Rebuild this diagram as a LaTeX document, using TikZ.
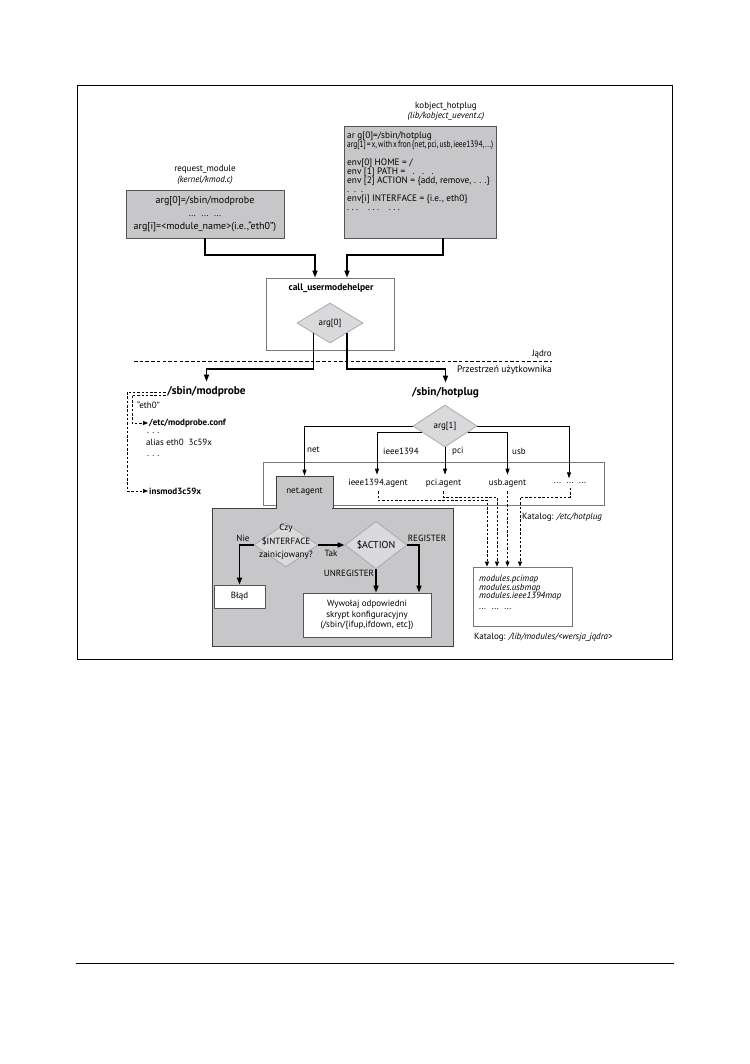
\documentclass[tikz,border=0pt]{standalone}
\usepackage{fontspec}
\setmainfont{PT Sans}
\usetikzlibrary{arrows.meta,shapes.geometric,calc}
\newcommand{\fw}[2]{\resizebox{#1pt}{\height}{#2}}
\definecolor{boxgray}{RGB}{199,199,201}
\definecolor{boxborder}{RGB}{85,85,85}
\definecolor{diafill}{RGB}{218,218,220}
\definecolor{diaborder}{RGB}{170,170,172}
\definecolor{lineborder}{RGB}{120,120,120}
\begin{document}
\begin{tikzpicture}[x=1pt,y=-1pt,
  font=\fontsize{9}{9}\selectfont,
  graybox/.style={draw=boxborder, fill=boxgray, line width=0.8, inner sep=0},
  whitebox/.style={draw=boxborder, fill=white, line width=0.8, inner sep=0},
  framebox/.style={draw=lineborder, fill=white, line width=0.8, inner sep=0},
  dia/.style={diamond, draw=diaborder, fill=diafill, inner sep=0, line width=0.8},
  lbl/.style={inner sep=0},
  agent/.style={inner xsep=1, inner ysep=4},
  bigbold/.style={font=\bfseries\fontsize{11.3}{13}\selectfont, inner xsep=1.5, inner ysep=5},
  smallbold/.style={font=\bfseries\fontsize{9}{9}\selectfont, inner sep=1},
  mainarr/.style={line width=1.6, -{Triangle[length=7pt,width=5pt]}},
  thinarr/.style={line width=0.8, -{Triangle[length=6pt,width=4pt]}},
  dasharr/.style={line width=0.7, dash pattern=on 2.5pt off 1.8pt, -{Triangle[length=5pt,width=4pt]}},
  kernelline/.style={line width=1, dash pattern=on 3.5pt off 2.2pt}]
\useasboundingbox (0,0) rectangle (749,1064);
% outer frame and footer rule
\draw[line width=1] (77,86) rectangle (672,659);
\draw[line width=1] (76,963) -- (674,963);

% top boxes
\node[align=center, lbl, font=\fontsize{9}{11}\selectfont] (reqtitle) at (205,174.5) {request\_module\\\textit{(kernel/kmod.c)}};
\node[graybox, minimum width=158, minimum height=48, align=center, font=\fontsize{10}{13}\selectfont] (req) at (205,214) {arg[0]=/sbin/modprobe\\{\fontsize{9}{9}\selectfont ... \ ... \ ...}\\arg[i]=<module\_name>(i.e.,“eth0”)};

\node[align=center, lbl, font=\fontsize{9}{10}\selectfont] (kobtitle) at (446,111) {kobject\_hotplug\\\textit{(lib/kobject\_uevent.c)}};
\node[graybox, minimum width=152, minimum height=112] (kob) at (420,182) {};
\node[anchor=north west, align=left, lbl, font=\fontsize{9.3}{9}\selectfont] (kobt) at (347,132) {ar g[0]=/sbin/hotplug\\\fw{146}{\spaceskip=0.14em arg[1] = x, with x fron \{net, pci, usb, ieee1394,\kern0.14em.\kern0.08em.\kern0.08em.)}\\[9pt]env[0] HOME = /\\env [1] PATH = \ \ .\ \ \ .\ \ \ .\\env [2] ACTION = \{add, remove, . . .\}\\.\ \ .\ \ .\\env[i] INTERFACE = \{i.e., eth0\}\\.\ .\ .\ \ \ \ .\ .\ .\ \ \ \ .\ .\ .};

% call_usermodehelper
\node[framebox, minimum width=128, minimum height=72] (call) at (330,314) {};
\node[smallbold, font=\bfseries\fontsize{9.5}{9}\selectfont] (callt) at (331,288) {call\_usermodehelper};
\node[dia, minimum width=66, minimum height=40] (arg0) at (330,323) {arg[0]};

\draw[mainarr] (req.south) |- (315,255) -- ([xshift=-15pt]call.north);
\draw[mainarr] ([xshift=23pt]kob.south) |- (347,255) -- ([xshift=17pt]call.north);

% kernel / user space border
\coordinate (kl) at (134,361);
\coordinate (kr) at (552,361);
\draw[kernelline] (kl) -- (kr);
\node[anchor=south east, inner sep=1] (jadro) at (553,359) {Jądro};
\node[anchor=north east, inner sep=1, font=\fontsize{9.5}{9}\selectfont] (przestrzen) at (553,364) {Przestrzeń użytkownika};

% modprobe / hotplug
\node[bigbold] (mp) at (206.5,392) {/sbin/modprobe};
\node[bigbold] (hp) at (445.5,393) {/sbin/hotplug};
\draw[mainarr] (arg0.south west) -- ++(0,36) -| (mp.north);
\draw[mainarr] (arg0.south east) -- ++(0,36) -| (hp.north);

% modprobe details
\node[anchor=west, lbl] (eth) at (137,405) {“eth0”};
\node[anchor=west, smallbold] (conf) at (148,423) {/etc/modprobe.conf};
\node[anchor=west, lbl] (d1) at (147,433) {. . .};
\node[anchor=west, lbl] (alias) at (146,442) {alias eth0 \ 3c59x};
\node[anchor=west, lbl] (d2) at (147,456) {. . .};
\node[anchor=west, smallbold] (insmod) at (148,491) {insmod3c59x};
\draw[dasharr] (mp.west) -| ([xshift=-21pt]insmod.west) -- (insmod.west);
\draw[dasharr] ([yshift=-3pt]mp.west) -| ([xshift=-16pt]conf.west) -- (conf.west);

% hotplug dispatch
\node[dia, minimum width=64, minimum height=42] (arg1) at (445,426) {arg[1]};
\node[framebox, minimum width=341, minimum height=43] (agents) at (433.5,483.5) {};

\node[graybox, draw=black!75, minimum width=241, minimum height=138] (netbox) at (332.5,577) {};
\node[graybox, draw=black!75, minimum width=57, minimum height=32] (nettab) at (304.5,492) {net.agent};
\fill[boxgray] (276.6,505) rectangle (332.4,509.6);

\node[agent] (ieee) at (378,483) {ieee1394.agent};
\node[agent] (pci) at (443.5,483) {pci.agent};
\node[agent] (usb) at (507.5,483) {usb.agent};
\node[agent] (dots) at (570,483) {... \ ... \ ...};

\draw[thinarr] (arg1.west) -| (nettab.north);
\draw[thinarr] ($(arg1.west)!0.3!(arg1.south)$) -| ([xshift=-1pt]ieee.north);
\draw[thinarr] (arg1.south) -- (arg1.south |- pci.north);
\draw[thinarr] ($(arg1.east)!0.3!(arg1.south)$) -| (usb.north);
\draw[thinarr] (arg1.east) -| ([xshift=-1pt]dots.north);

\node[anchor=west, lbl] (lnet) at (307,450) {net};
\node[anchor=west, lbl] (lieee) at (383,451) {ieee1394};
\node[anchor=west, lbl] (lpci) at (452,451) {pci};
\node[anchor=west, lbl] (lusb) at (512,451) {usb};

% modules directory
\node[framebox, minimum width=99, minimum height=59] (mods) at (522.5,596.5) {};
\node[anchor=north west, align=left, lbl, font=\itshape\fontsize{9}{8.5}\selectfont] (modst) at (479,575) {modules.pcimap\\modules.usbmap\\modules.ieee1394map\\[2pt]\upshape ... \ ... \ ...};
\draw[dasharr] (ieee.south) |- (487,500) -- ([xshift=-35.5pt]mods.north);
\draw[dasharr] (pci.south) |- (497,497) -- ([xshift=-25.5pt]mods.north);
\draw[dasharr] (usb.south) -- (usb.south |- mods.north);
\draw[dasharr] (dots.south) |- (520,497) -- ([xshift=-2.5pt]mods.north);

\node[anchor=west, lbl] (kat1) at (522,517) {Katalog: \textit{/etc/hotplug}};
\node[anchor=west, lbl] (kat2) at (474,637) {Katalog: \textit{/lib/modules/<wersja\_jądra>}};

% net.agent logic
\node[dia, minimum width=64, minimum height=44] (czy) at (286,545) {};
\node[align=center, lbl, font=\fontsize{9}{13.5}\selectfont] (czyt) at (286,542) {Czy\\\$INTERFACE\\zainicjowany?};
\node[whitebox, minimum width=51, minimum height=23] (blad) at (239.5,596.5) {Błąd};
\node[lbl] (nie) at (243,538) {Nie};
\draw[mainarr] (czy.west) -| (blad.north);

\node[dia, minimum width=62, minimum height=46, font=\fontsize{10}{9}\selectfont] (action) at (376,545) {\$ACTION};
\draw[mainarr] (czy.east) -- (action.west);
\node[lbl] (tak) at (331,553) {Tak};

\node[whitebox, minimum width=128, minimum height=44, align=center, font=\fontsize{9}{10.5}\selectfont] (wyw) at (367,615) {Wywołaj odpowiedni\\skrypt konfiguracyjny\\(/sbin/\{ifup,ifdown, etc\})};
\draw[mainarr] (action.east) -| ([xshift=52pt]wyw.north);
\draw[mainarr] (action.south) -- (action.south |- wyw.north);
\node[lbl] (reg) at (427,538) {REGISTER};
\node[lbl] (unreg) at (349,573) {UNREGISTER};
\end{tikzpicture}
\end{document}
